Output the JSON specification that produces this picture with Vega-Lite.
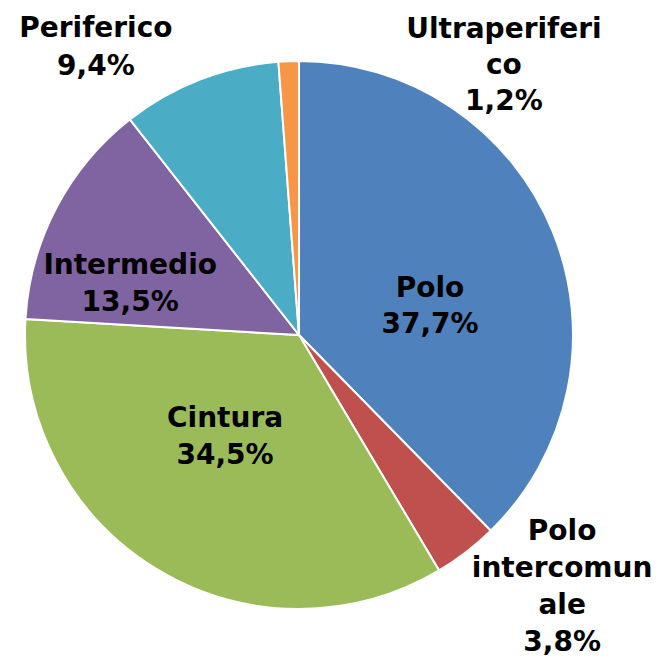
{
  "$schema": "https://vega.github.io/schema/vega-lite/v6.json",
  "width": 598,
  "height": 646,
  "padding": {"left": 0, "top": 12, "right": 61, "bottom": 1},
  "autosize": {"type": "none"},
  "background": "white",
  "view": {"stroke": null},
  "data": {
    "values": [
      {"i": 1, "zona": "Polo", "v": 37.7, "label": "Polo\n37,7%"},
      {"i": 2, "zona": "Polo intercomunale", "v": 3.8, "label": "Polo\nintercomun\nale\n3,8%"},
      {"i": 3, "zona": "Cintura", "v": 34.5, "label": "Cintura\n34,5%"},
      {"i": 4, "zona": "Intermedio", "v": 13.5, "label": "Intermedio\n13,5%"},
      {"i": 5, "zona": "Periferico", "v": 9.4, "label": "Periferico\n9,4%"},
      {"i": 6, "zona": "Ultraperiferico", "v": 1.2, "label": "Ultraperiferi\nco\n1,2%"}
    ]
  },
  "encoding": {
    "theta": {"field": "v", "type": "quantitative", "stack": true},
    "order": {"field": "i", "type": "quantitative"}
  },
  "layer": [
    {
      "mark": {"type": "arc", "radius": 274, "stroke": "white", "strokeWidth": 2},
      "encoding": {
        "color": {
          "field": "zona", "type": "nominal", "legend": null,
          "scale": {
            "domain": ["Polo", "Polo intercomunale", "Cintura", "Intermedio", "Periferico", "Ultraperiferico"],
            "range": ["#4F81BD", "#C0504D", "#9BBB59", "#8064A2", "#4BACC6", "#F79646"]
          }
        }
      }
    },
    {
      "mark": {"type": "text", "radius": 134, "dx": 7, "dy": 5, "font": "DejaVu Sans", "fontWeight": "bold", "fontSize": 28, "lineBreak": "\n", "lineHeight": 36, "align": "center", "baseline": "middle", "color": "black"},
      "encoding": {"text": {"condition": {"test": "datum.zona === 'Polo'", "field": "label"}, "value": ""}}
    },
    {
      "mark": {"type": "text", "radius": 315, "dx": 71, "dy": -53, "font": "DejaVu Sans", "fontWeight": "bold", "fontSize": 28, "lineBreak": "\n", "lineHeight": 37, "align": "center", "baseline": "middle", "color": "black"},
      "encoding": {"text": {"condition": {"test": "datum.zona === 'Polo intercomunale'", "field": "label"}, "value": ""}}
    },
    {
      "mark": {"type": "text", "radius": 125, "dx": -9, "dy": -23, "font": "DejaVu Sans", "fontWeight": "bold", "fontSize": 28, "lineBreak": "\n", "lineHeight": 37, "align": "center", "baseline": "middle", "color": "black"},
      "encoding": {"text": {"condition": {"test": "datum.zona === 'Cintura'", "field": "label"}, "value": ""}}
    },
    {
      "mark": {"type": "text", "radius": 186, "dx": -4, "dy": 17, "font": "DejaVu Sans", "fontWeight": "bold", "fontSize": 28, "lineBreak": "\n", "lineHeight": 37, "align": "center", "baseline": "middle", "color": "black"},
      "encoding": {"text": {"condition": {"test": "datum.zona === 'Intermedio'", "field": "label"}, "value": ""}}
    },
    {
      "mark": {"type": "text", "radius": 307, "dx": -92, "dy": -20, "font": "DejaVu Sans", "fontWeight": "bold", "fontSize": 28, "lineBreak": "\n", "lineHeight": 38, "align": "center", "baseline": "middle", "color": "black"},
      "encoding": {"text": {"condition": {"test": "datum.zona === 'Periferico'", "field": "label"}, "value": ""}}
    },
    {
      "mark": {"type": "text", "radius": 268, "dx": 215, "dy": -37, "font": "DejaVu Sans", "fontWeight": "bold", "fontSize": 28, "lineBreak": "\n", "lineHeight": 36, "align": "center", "baseline": "middle", "color": "black"},
      "encoding": {"text": {"condition": {"test": "datum.zona === 'Ultraperiferico'", "field": "label"}, "value": ""}}
    }
  ]
}
